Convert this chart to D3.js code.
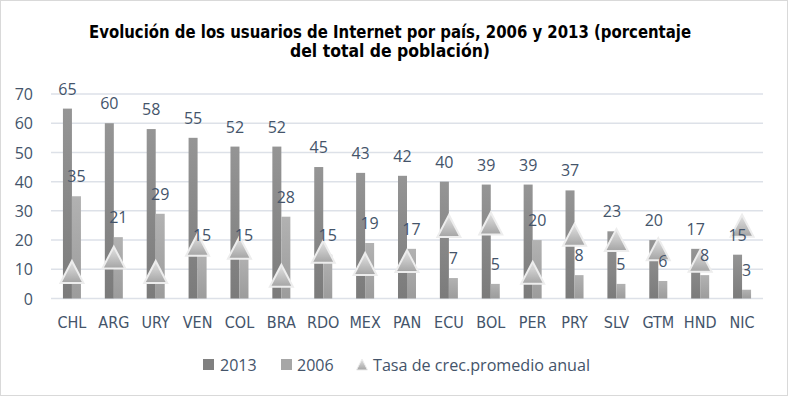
<!DOCTYPE html>
<html><head><meta charset="utf-8">
<script src="https://cdn.jsdelivr.net/npm/d3@7"></script>
<style>body{margin:0;background:#fff}svg{display:block}</style>
</head><body>
<svg id="c" width="788" height="396"></svg>
<script>
const categories = ["CHL","ARG","URY","VEN","COL","BRA","RDO","MEX","PAN","ECU","BOL","PER","PRY","SLV","GTM","HND","NIC"];
const values2013 = [65,60,58,55,52,52,45,43,42,40,39,39,37,23,20,17,15];
const values2006 = [35,21,29,15,15,28,15,19,17,7,5,20,8,5,6,8,3];
const growthRate = [9.1,14.0,9.1,18.4,17.4,7.8,16.0,11.8,12.8,24.8,25.7,8.8,21.8,20.0,16.9,12.9,24.9];
const yTicks = [0,10,20,30,40,50,60,70];
const seriesNames = ["2013","2006","Tasa de crec.promedio anual"];
const titleLines = ["Evolución de los usuarios de Internet por país, 2006 y 2013 (porcentaje","del total de población)"];

const svg = d3.select("#c");
const W = 788, H = 396;
svg.append("rect").attr("x",0.5).attr("y",0.5).attr("width",W-1).attr("height",H-1)
  .attr("fill","#fff").attr("stroke","#D9D9D9");

const defs = svg.append("defs");
function vgrad(id, c1, c2){
  const g = defs.append("linearGradient").attr("id",id).attr("x1",0).attr("y1",0).attr("x2",0).attr("y2",1);
  g.append("stop").attr("offset","0%").attr("stop-color",c1);
  g.append("stop").attr("offset","100%").attr("stop-color",c2);
}
vgrad("g2013","#959595","#7B7B7B");
vgrad("g2006","#B2B2B2","#9C9C9C");
vgrad("gTri","#E4E4E4","#A4A4A4");

const x = d3.scaleBand().domain(categories).range([51,763]).padding(0);
const y = d3.scaleLinear().domain([0,70]).range([298.5,94]);
const bw = x.bandwidth()*0.215;

// title
svg.append("g").selectAll("text").data(titleLines).join("text")
  .attr("x",390).attr("y",(d,i)=>37.5+i*19.5)
  .attr("text-anchor","middle")
  .attr("font-family","'Liberation Sans Narrow','DejaVu Sans Condensed',sans-serif")
  .attr("font-weight","bold").attr("font-size",18).attr("fill","#000")
  .attr("textLength",(d,i)=>i===0?602:200).attr("lengthAdjust","spacingAndGlyphs")
  .text(d=>d);

// gridlines
svg.append("g").selectAll("line").data(yTicks).join("line")
  .attr("x1",51).attr("x2",763).attr("y1",d=>y(d)).attr("y2",d=>y(d))
  .attr("stroke","#DDE1E8").attr("stroke-width",1.5);

// y axis labels
const yAxis = d3.axisLeft(y).tickValues(yTicks).tickSize(0).tickPadding(0);
const ya = svg.append("g").attr("transform","translate(33,0)").call(yAxis);
ya.select(".domain").remove();
ya.selectAll("text").attr("font-family","'Open Sans',sans-serif").attr("font-size",16)
  .attr("fill","#44546A").attr("dy","0.35em");

// x axis labels
const xAxis = d3.axisBottom(x).tickSize(0).tickPadding(0);
const xa = svg.append("g").attr("transform","translate(0,328)").call(xAxis);
xa.select(".domain").remove();
xa.selectAll("text").attr("font-family","'Liberation Sans Narrow','DejaVu Sans Condensed',sans-serif")
  .attr("font-size",16).attr("fill","#44546A").attr("dy",0);

// bars
svg.append("g").selectAll("rect").data(categories).join("rect")
  .attr("x",d=>x(d)+x.bandwidth()/2-bw).attr("width",bw)
  .attr("y",(d,i)=>y(values2013[i])).attr("height",(d,i)=>y(0)-y(values2013[i]))
  .attr("fill","url(#g2013)");
svg.append("g").selectAll("rect").data(categories).join("rect")
  .attr("x",d=>x(d)+x.bandwidth()/2).attr("width",bw)
  .attr("y",(d,i)=>y(values2006[i])).attr("height",(d,i)=>y(0)-y(values2006[i]))
  .attr("fill","url(#g2006)");

// triangles
function tri(cx,cy,hw,hh){return `M${cx},${cy-hh}L${cx+hw},${cy+hh}L${cx-hw},${cy+hh}Z`;}
svg.append("g").selectAll("path").data(categories).join("path")
  .attr("d",(d,i)=>tri(x(d)+x.bandwidth()/2, y(growthRate[i]), 11.5, 11))
  .attr("fill","url(#gTri)").attr("stroke","#EDEDED").attr("stroke-width",2).attr("stroke-linejoin","miter");

// labels
const lab = svg.append("g").attr("font-family","'Open Sans',sans-serif").attr("font-size",16)
  .attr("fill","#44546A").attr("text-anchor","middle");
lab.selectAll("text.a").data(categories).join("text").attr("class","a")
  .attr("x",d=>x(d)+x.bandwidth()/2-bw/2).attr("y",(d,i)=>y(values2013[i])-14)
  .text((d,i)=>values2013[i]);
lab.selectAll("text.b").data(categories).join("text").attr("class","b")
  .attr("x",d=>x(d)+x.bandwidth()/2+bw/2).attr("y",(d,i)=>y(values2006[i])-14)
  .text((d,i)=>values2006[i]);

// legend
const lg = svg.append("g").attr("font-family","'Open Sans',sans-serif").attr("font-size",16).attr("fill","#44546A");
lg.append("rect").attr("x",203).attr("y",359).attr("width",11).attr("height",11).attr("fill","#808080");
lg.append("text").attr("x",220).attr("y",371).text(seriesNames[0]);
lg.append("rect").attr("x",281).attr("y",359).attr("width",11).attr("height",11).attr("fill","#A6A6A6");
lg.append("text").attr("x",297).attr("y",371).text(seriesNames[1]);
lg.append("path").attr("d",tri(362,364.5,5.5,5.5)).attr("fill","url(#gTri)").attr("stroke","#EDEDED");
lg.append("text").attr("x",373).attr("y",371).attr("textLength",217).attr("lengthAdjust","spacingAndGlyphs").text(seriesNames[2]);
</script>
</body></html>
